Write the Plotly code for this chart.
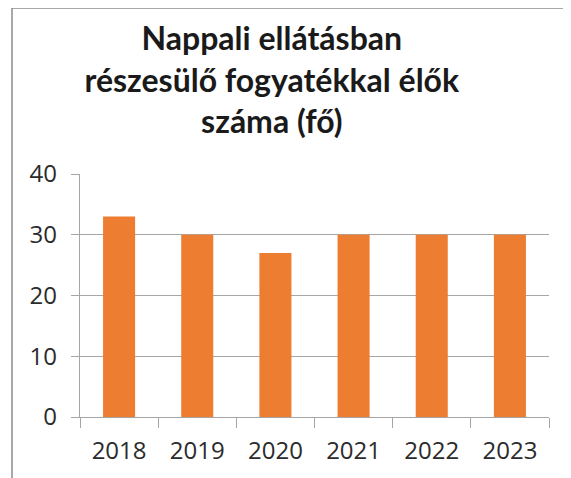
import plotly.graph_objects as go

years = ["2018", "2019", "2020", "2021", "2022", "2023"]
counts = [33, 30, 27, 30, 30, 30]
y_ticks = [0, 10, 20, 30, 40]

title_text = "Nappali ellátásban<br>részesülő fogyatékkal élők<br>száma (fő)"

fig = go.Figure()
fig.add_trace(go.Bar(
    x=years,
    y=counts,
    marker=dict(color="#ED7D31", line=dict(width=0)),
    width=0.41,
))

# the page body adds an 8px offset, so margins are shifted by that much
fig.update_layout(
    width=571,
    height=478,
    margin=dict(l=72, r=30, t=166, b=69),
    paper_bgcolor="white",
    plot_bgcolor="white",
    showlegend=False,
    title=dict(
        text=title_text,
        x=0.462,
        xanchor="center",
        xref="container",
        y=0.912,
        yanchor="middle",
        font=dict(family="Lato", size=32, color="#1a1a1a", weight=700),
    ),
    font=dict(family="Open Sans", size=24, color="#2b2b2b"),
)

fig.update_xaxes(
    showgrid=False,
    showline=True,
    linecolor="#a6a6a6",
    linewidth=1.3,
    ticks="outside",
    tickson="boundaries",
    ticklen=10,
    tickcolor="#a6a6a6",
    tickfont=dict(size=24),
    ticklabelstandoff=12,
)
fig.update_yaxes(
    range=[0, 40],
    tickvals=y_ticks,
    showgrid=True,
    gridcolor="#a6a6a6",
    gridwidth=1.3,
    showline=True,
    linecolor="#a6a6a6",
    linewidth=1.3,
    ticks="outside",
    ticklen=8,
    tickcolor="#a6a6a6",
    tickfont=dict(size=24),
    ticklabelstandoff=9,
    zeroline=False,
)

# chart frame (only top and left edges are visible in the picture)
fig.add_shape(
    type="rect",
    xref="paper", yref="paper",
    x0=(4 - 72) / 469, x1=1.2,
    y0=-0.5, y1=(409 - 0) / 243,
    line=dict(color="#8c8c8c", width=1.5),
    fillcolor="rgba(0,0,0,0)",
    layer="below",
)

fig.write_html("out.html")
